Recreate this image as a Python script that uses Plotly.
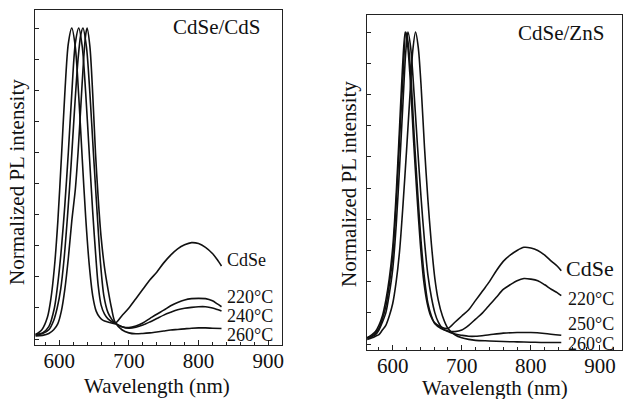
import plotly.graph_objects as go

# ---------------- Data: CdSe/CdS panel (left) ----------------
cds_cdse_wl = [566, 575, 583, 588, 593, 598, 603, 608, 613, 618, 623, 628, 633, 638, 643, 648, 653, 658, 663, 670, 680,
               690, 700, 710, 720, 730, 740, 750, 760, 770, 780, 790, 800, 810, 820, 827, 833]
cds_cdse_i = [0.015, 0.03, 0.07, 0.13, 0.23, 0.38, 0.58, 0.79, 0.95, 1.0, 0.94, 0.78, 0.58, 0.39, 0.24, 0.14, 0.09, 0.07, 0.06, 0.055, 0.05,
              0.075, 0.10, 0.13, 0.16, 0.19, 0.215, 0.245, 0.27, 0.29, 0.303, 0.31, 0.307, 0.295, 0.275, 0.255, 0.235]

cds_220_wl = [566, 576, 585, 593, 598, 603, 608, 613, 618, 623, 628, 633, 638, 643, 648, 653, 656, 660, 665, 670, 680,
              690, 700, 710, 720, 730, 740, 750, 760, 770, 780, 790, 800, 810, 820, 827, 833]
cds_220_i = [0.015, 0.02, 0.04, 0.10, 0.18, 0.29, 0.43, 0.60, 0.79, 0.95, 1.0, 0.94, 0.79, 0.60, 0.41, 0.25, 0.17, 0.11, 0.08, 0.065, 0.05,
             0.04, 0.037, 0.042, 0.052, 0.066, 0.08, 0.093, 0.107, 0.118, 0.126, 0.13, 0.131, 0.13, 0.123, 0.113, 0.104]

cds_240_wl = [566, 576, 585, 592, 597, 602, 607, 612, 617, 622, 627, 631, 634, 639, 644, 649, 654, 659, 664, 670, 675, 680,
              690, 700, 710, 720, 730, 740, 750, 760, 770, 780, 790, 800, 810, 820, 827, 833]
cds_240_i = [0.012, 0.018, 0.03, 0.06, 0.10, 0.16, 0.26, 0.40, 0.56, 0.74, 0.90, 0.98, 1.0, 0.94, 0.79, 0.60, 0.42, 0.25, 0.14, 0.085, 0.065, 0.052,
             0.04, 0.035, 0.038, 0.045, 0.055, 0.066, 0.077, 0.086, 0.094, 0.099, 0.102, 0.104, 0.104, 0.10, 0.095, 0.09]

cds_260_wl = [566, 576, 585, 592, 598, 603, 608, 613, 618, 623, 627, 631, 635, 638, 640, 644, 648, 652, 656, 660, 665, 670, 675, 680,
              690, 700, 710, 720, 730, 740, 750, 760, 770, 780, 790, 800, 810, 820, 833]
cds_260_i = [0.01, 0.012, 0.018, 0.03, 0.05, 0.09, 0.16, 0.26, 0.38, 0.48, 0.60, 0.75, 0.90, 0.98, 1.0, 0.94, 0.79, 0.60, 0.45, 0.33, 0.23, 0.16, 0.10, 0.055,
             0.03, 0.02, 0.017, 0.018, 0.02, 0.023, 0.026, 0.029, 0.031, 0.033, 0.035, 0.036, 0.036, 0.035, 0.034]

# ---------------- Data: CdSe/ZnS panel (right) ----------------
zns_cdse_wl = [563, 570, 575, 580, 585, 590, 595, 600, 605, 610, 614, 618, 621, 625, 630, 635, 640, 645, 650, 655, 660, 670, 680,
               690, 700, 710, 720, 730, 740, 750, 760, 770, 780, 790, 800, 810, 820, 830, 838, 844]
zns_cdse_i = [0.02, 0.03, 0.04, 0.06, 0.09, 0.14, 0.21, 0.31, 0.48, 0.70, 0.88, 1.0, 0.97, 0.86, 0.66, 0.48, 0.32, 0.20, 0.13, 0.09, 0.07, 0.055, 0.05,
              0.07, 0.09, 0.11, 0.14, 0.17, 0.20, 0.235, 0.265, 0.285, 0.30, 0.31, 0.308, 0.30, 0.285, 0.265, 0.25, 0.235]

zns_220_wl = [563, 570, 575, 580, 585, 590, 595, 600, 605, 610, 615, 619, 622, 626, 631, 636, 641, 646, 651, 656, 661, 670, 680,
              690, 700, 710, 720, 730, 740, 750, 760, 770, 780, 790, 800, 810, 820, 830, 838, 844]
zns_220_i = [0.02, 0.025, 0.035, 0.05, 0.08, 0.12, 0.19, 0.28, 0.45, 0.66, 0.86, 1.0, 0.97, 0.87, 0.67, 0.49, 0.33, 0.21, 0.13, 0.09, 0.065, 0.05, 0.042,
             0.04, 0.045, 0.06, 0.08, 0.10, 0.125, 0.15, 0.175, 0.19, 0.203, 0.21, 0.208, 0.203, 0.19, 0.175, 0.165, 0.155]

zns_250_wl = [563, 570, 575, 580, 585, 590, 595, 600, 605, 610, 615, 619, 622, 626, 631, 636, 641, 646, 651, 656, 661, 666, 672, 680,
              690, 700, 710, 720, 740, 760, 780, 800, 820, 844]
zns_250_i = [0.02, 0.025, 0.03, 0.045, 0.07, 0.10, 0.16, 0.24, 0.38, 0.57, 0.78, 0.94, 1.0, 0.95, 0.80, 0.63, 0.47, 0.33, 0.22, 0.15, 0.10, 0.07, 0.05, 0.04,
             0.032, 0.028, 0.025, 0.025, 0.03, 0.035, 0.037, 0.037, 0.034, 0.028]

zns_260_wl = [563, 570, 575, 580, 585, 590, 595, 600, 605, 610, 615, 620, 625, 629, 633, 637, 641, 646, 651, 656, 661, 666, 672, 680,
              690, 700, 710, 720, 740, 760, 780, 800, 820, 844]
zns_260_i = [0.015, 0.02, 0.025, 0.03, 0.045, 0.06, 0.09, 0.13, 0.20, 0.30, 0.45, 0.62, 0.80, 0.94, 1.0, 0.95, 0.83, 0.63, 0.46, 0.32, 0.21, 0.14, 0.09, 0.05,
             0.03, 0.02, 0.015, 0.012, 0.01, 0.008, 0.007, 0.006, 0.005, 0.005]

left_series = [(cds_cdse_wl, cds_cdse_i), (cds_220_wl, cds_220_i), (cds_240_wl, cds_240_i), (cds_260_wl, cds_260_i)]
right_series = [(zns_cdse_wl, zns_cdse_i), (zns_220_wl, zns_220_i), (zns_250_wl, zns_250_i), (zns_260_wl, zns_260_i)]

left_labels = ["CdSe", "220°C", "240°C", "260°C"]
right_labels = ["CdSe", "220°C", "250°C", "260°C"]

W, H = 625, 399
FONT = "Liberation Serif"

fig = go.Figure()
for wl, inten in left_series:
    fig.add_trace(go.Scatter(x=wl, y=inten, mode="lines", xaxis="x", yaxis="y",
                             line=dict(color="#111", width=1.6, shape="spline", smoothing=0.8),
                             showlegend=False, hoverinfo="skip"))
for wl, inten in right_series:
    fig.add_trace(go.Scatter(x=wl, y=inten, mode="lines", xaxis="x2", yaxis="y2",
                             line=dict(color="#111", width=1.6, shape="spline", smoothing=0.8),
                             showlegend=False, hoverinfo="skip"))


def px(x):
    return x / W


def py(y):
    return 1 - y / H


xcommon = dict(showline=True, linecolor="#222", linewidth=1, mirror=True,
               ticks="inside", ticklen=5, tickcolor="#222", tick0=600, dtick=100,
               minor=dict(ticks="inside", ticklen=3, dtick=20, tickcolor="#222"),
               showgrid=False, zeroline=False, ticklabelstandoff=-3,
               tickfont=dict(family=FONT, size=21, color="#111"))
ycommon = dict(showline=True, linecolor="#222", linewidth=1, mirror=True,
               ticks="inside", ticklen=4, tickcolor="#222", tick0=0, dtick=0.1,
               showticklabels=False, showgrid=False, zeroline=False)

fig.update_layout(
    width=W, height=H, autosize=False,
    margin=dict(l=0, r=0, t=0, b=0, pad=0),
    paper_bgcolor="white", plot_bgcolor="white",
    font=dict(family=FONT, color="#111"),
    xaxis=dict(domain=[px(35), px(283)], range=[565, 920], anchor="y", **xcommon),
    yaxis=dict(domain=[py(345), py(10)], range=[-0.019, 1.058], anchor="x", **ycommon),
    xaxis2=dict(domain=[px(368), px(623.5)], range=[562.5, 931.2], anchor="y2", **xcommon),
    yaxis2=dict(domain=[py(350), py(15)], range=[-0.019, 1.0545], anchor="x2", **ycommon),
)

ann = []


def add_text(text, x, y, size, xanchor="center", angle=0):
    ann.append(dict(text=text, x=px(x), y=py(y), xref="paper", yref="paper",
                    xanchor=xanchor, yanchor="middle", showarrow=False, textangle=angle,
                    font=dict(family=FONT, size=size, color="#111")))


# axis titles
add_text("Wavelength (nm)", 158, 386, 21)
add_text("Wavelength (nm)", 497, 388, 21)
add_text("Normalized PL intensity", 17, 182, 21, angle=-90)
add_text("Normalized PL intensity", 350, 184, 21, angle=-90)
# panel titles
add_text("CdSe/CdS", 218, 27, 21)
add_text("CdSe/ZnS", 563, 33, 21)
# curve labels
for lab, y in zip(left_labels, [260, 297, 316, 335]):
    add_text(lab, 226, y, 18, xanchor="left")
for lab, y, s in zip(right_labels, [268, 299, 324, 344], [22, 18, 18, 18]):
    add_text(lab, 566 if lab == "CdSe" else 568, y, s, xanchor="left")

fig.update_layout(annotations=ann)
fig.write_html("out.html", config={"displayModeBar": False},
               post_script="document.body.style.margin='0';document.body.style.padding='0';document.body.style.overflow='hidden';")
